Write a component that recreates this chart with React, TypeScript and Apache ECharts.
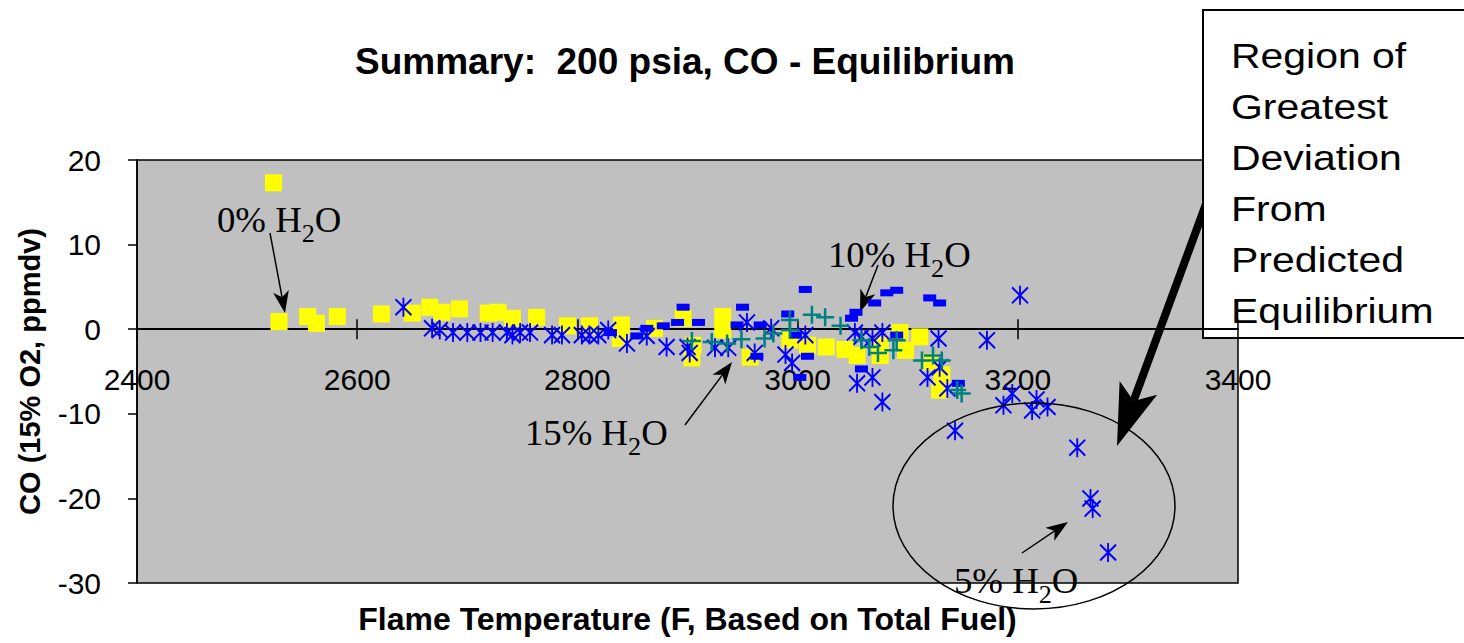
import React, { useEffect, useRef } from "react";
import * as echarts from "echarts";

// ---- data (flame temperature °F, CO deviation ppmdv) ----
const h2o0: [number, number][] = [
  [2524, 17.3], [2529, 0.9], [2555, 1.5], [2563, 0.7], [2582, 1.5], [2622, 1.8],
  [2650, 1.9], [2666, 2.6], [2677, 2.0], [2693, 2.4], [2719, 1.9], [2728, 2.0],
  [2741, 1.3], [2763, 1.4], [2791, 0.4], [2811, 0.4], [2840, 0.5], [2839, -1.1],
  [2870, 0.1], [2896, 1.3], [2905, -1.9], [2904, -3.4], [2932, 1.5], [2932, -0.1],
  [2957, -3.3], [2993, -1.3], [3009, -1.9], [3026, -2.1], [3043, -2.4], [3054, -3.1],
  [3075, -1.9], [3075, -3.1], [3093, -0.4], [3111, -0.9], [3098, -2.5], [3120, -3.9],
  [3131, -5.4], [3129, -7.2],
];
const h2o10: [number, number][] = [
  [2830, -0.4], [2854, -0.8], [2863, 0.1], [2878, 0.4], [2891, 0.8], [2896, 2.6],
  [2910, 0.8], [2945, 0.5], [2950, 2.6], [2963, -3.2], [2966, 0.5], [2991, 1.8],
  [2998, -0.7], [3007, 4.7], [3009, -3.2], [3002, -5.7], [3049, 1.3], [3053, 2.0],
  [3058, -4.7], [3070, 3.1], [3081, 4.3], [3090, 4.6], [3090, -0.7], [3120, 3.7],
  [3129, 3.1], [3146, -6.4],
];
const h2o15: [number, number][] = [
  [2904, -1.4], [2922, -1.5], [2936, -1.7], [2949, -1.2], [2970, -1.1], [2978, -0.5],
  [2993, 1.1], [2993, -0.1], [3013, 1.7], [3025, 1.4], [3039, 0.4], [3058, -1.3],
  [3065, -2.1], [3073, -2.8], [3087, -2.5], [3090, -1.3], [3113, -3.7], [3123, -3.1],
  [3131, -3.7], [3145, -7.2], [3149, -7.6],
];
const h2o5: [number, number][] = [
  [2642, 2.6], [2668, 0.1], [2675, -0.1], [2687, -0.4], [2700, -0.4], [2712, -0.4],
  [2723, -0.4], [2736, -0.4], [2741, -0.7], [2748, -0.4], [2757, -0.4], [2777, -0.7],
  [2786, -0.7], [2804, -0.7], [2811, -0.7], [2819, -0.7], [2828, -0.1], [2845, -1.7],
  [2863, -0.8], [2881, -2.1], [2900, -2.1], [2902, -2.8], [2925, -2.2], [2937, -2.2],
  [2954, 0.8], [2961, -2.8], [2976, 0.1], [2989, -3.0], [2995, -4.0], [3007, -0.7],
  [3052, -0.4], [3058, -0.9], [3068, -1.1], [3077, -0.4], [3054, -6.4], [3068, -5.7],
  [3077, -8.6], [3128, -1.1], [3118, -5.7], [3129, -4.5], [3136, -7.0], [3172, -1.3],
  [3202, 4.0], [3143, -12.0], [3187, -9.0], [3195, -7.6], [3213, -9.6], [3217, -8.3],
  [3227, -9.2], [3254, -14.0], [3266, -20.0], [3268, -21.2], [3282, -26.4],
];

const xTicks = [2400, 2600, 2800, 3000, 3200, 3400];
const yTicks = [-30, -20, -10, 0, 10, 20];

const titleText = "Summary:  200 psia, CO - Equilibrium";
const xName = "Flame Temperature (F, Based on Total Fuel)";
const yName = "CO (15% O2, ppmdv)";
const boxLines = ["Region of", "Greatest", "Deviation", "From", "Predicted", "Equilibrium"];

const SANS = '"Liberation Sans", Arial, sans-serif';
const SERIF = '"Liberation Serif", "Times New Roman", serif';

function measure(text: string, font: string): number {
  const c = document.createElement("canvas");
  const ctx = c.getContext("2d");
  if (!ctx) return text.length * 15;
  ctx.font = font;
  return ctx.measureText(text).width;
}

function h2oLabel(prefix: string, x: number, baseline: number) {
  const mainSize = 35;
  const subSize = 25;
  const sx = 1.05;
  const mainFont = `normal ${mainSize}px ${SERIF}`;
  const subFont = `normal ${subSize}px ${SERIF}`;
  const p1 = prefix + " H";
  const w1 = measure(p1, mainFont) * sx;
  const w2 = measure("2", subFont) * sx;
  const midMain = baseline - 0.34 * mainSize;
  const midSub = baseline + 10 - 0.34 * subSize;
  return {
    type: "group",
    z: 60,
    children: [
      { type: "text", x, y: midMain, scaleX: sx, style: { text: p1, font: mainFont, fill: "#000", verticalAlign: "middle", align: "left" } },
      { type: "text", x: x + w1, y: midSub, scaleX: sx, style: { text: "2", font: subFont, fill: "#000", verticalAlign: "middle", align: "left" } },
      { type: "text", x: x + w1 + w2, y: midMain, scaleX: sx, style: { text: "O", font: mainFont, fill: "#000", verticalAlign: "middle", align: "left" } },
    ],
  };
}

function arrow(x1: number, y1: number, x2: number, y2: number, lw: number, headLen: number, headHalf: number, notch: number, z: number) {
  const dx = x2 - x1, dy = y2 - y1;
  const L = Math.hypot(dx, dy);
  const ux = dx / L, uy = dy / L;
  const nx = -uy, ny = ux;
  const bx = x2 - ux * headLen, by = y2 - uy * headLen;
  const qx = x2 - ux * (headLen - notch), qy = y2 - uy * (headLen - notch);
  return {
    type: "group",
    z,
    children: [
      { type: "polyline", shape: { points: [[x1, y1], [qx, qy]] }, style: { stroke: "#000", lineWidth: lw, fill: "none" } },
      {
        type: "polygon",
        shape: { points: [[x2, y2], [bx + nx * headHalf, by + ny * headHalf], [qx, qy], [bx - nx * headHalf, by - ny * headHalf]] },
        style: { fill: "#000", stroke: "none" },
      },
    ],
  };
}

export default function App() {
  const ref = useRef<HTMLDivElement>(null);
  useEffect(() => {
    if (!ref.current) return;
    const chart = echarts.init(ref.current, null, { renderer: "svg" });
    const boxFont = `normal 35px ${SANS}`;
    const plain = (v: number) => String(v);
    const option: any = {
      animation: false,
      backgroundColor: "#fff",
      textStyle: { fontFamily: SANS, color: "#000" },
      title: {
        text: titleText,
        left: 680,
        top: 38,
        textAlign: "center",
        textStyle: { fontSize: 37, fontWeight: "bold", color: "#000", fontFamily: SANS },
      },
      grid: {
        left: 137,
        top: 160,
        width: 1101,
        height: 423,
        show: true,
        outerBoundsMode: "none",
        containLabel: false,
        backgroundColor: "#C0C0C0",
        borderColor: "#000",
        borderWidth: 1.5,
      },
      xAxis: [
        {
          type: "value",
          min: xTicks[0],
          max: xTicks[xTicks.length - 1],
          interval: 200,
          position: "bottom",
          name: xName,
          nameLocation: "middle",
          nameGap: 20,
          nameTextStyle: { fontSize: 32, fontWeight: "bold", color: "#000", fontFamily: SANS },
          axisLine: { show: true, onZero: true, onZeroAxisIndex: 0, lineStyle: { color: "#000", width: 2 } },
          axisTick: { show: true, inside: false, length: 10, lineStyle: { color: "#000", width: 1.5 } },
          axisLabel: { show: true, margin: -219, fontSize: 30, color: "#000", fontFamily: SANS, formatter: plain },
          splitLine: { show: false },
        },
        {
          type: "value",
          min: xTicks[0],
          max: xTicks[xTicks.length - 1],
          interval: 200,
          position: "bottom",
          axisLine: { show: false, onZero: true, onZeroAxisIndex: 0 },
          axisTick: { show: true, inside: true, length: 10, lineStyle: { color: "#000", width: 1.5 } },
          axisLabel: { show: false },
          splitLine: { show: false },
        },
      ],
      yAxis: {
        type: "value",
        min: yTicks[0],
        max: yTicks[yTicks.length - 1],
        interval: 10,
        name: yName,
        nameLocation: "middle",
        nameGap: 93,
        nameRotate: 90,
        nameTextStyle: { fontSize: 29, fontWeight: "bold", color: "#000", fontFamily: SANS },
        axisLine: { show: true, onZero: false, lineStyle: { color: "#000", width: 1.5 } },
        axisTick: { show: true, length: 9, lineStyle: { color: "#000", width: 1.5 } },
        axisLabel: { margin: 36, fontSize: 30, color: "#000", fontFamily: SANS, formatter: plain },
        splitLine: { show: false },
      },
      series: [
        {
          name: "0% H2O",
          type: "scatter",
          data: h2o0,
          symbol: "rect",
          symbolSize: [17, 17],
          itemStyle: { color: "#FFFF00", opacity: 1 },
          z: 2,
        },
        {
          name: "10% H2O",
          type: "scatter",
          data: h2o10,
          symbol: "rect",
          symbolSize: [13, 7],
          itemStyle: { color: "#0000FF", opacity: 1 },
          z: 3,
        },
        {
          name: "5% H2O",
          type: "scatter",
          data: h2o5,
          symbol: "path://M0 0 L10 10 M10 0 L0 10 M5 -1 L5 11",
          symbolSize: [16, 19],
          itemStyle: { color: "rgba(0,0,0,0)", borderColor: "#0000FF", borderWidth: 2, opacity: 1 },
          z: 4,
        },
        {
          name: "15% H2O",
          type: "scatter",
          data: h2o15,
          symbol: "path://M5 0 L5 10 M0 5 L10 5",
          symbolSize: [18, 18],
          itemStyle: { color: "rgba(0,0,0,0)", borderColor: "#008080", borderWidth: 2.5, opacity: 1 },
          z: 5,
        },
      ],
      graphic: [
        {
          type: "ellipse",
          z: 50,
          shape: { cx: 1034, cy: 506, rx: 141, ry: 103 },
          style: { fill: "none", stroke: "#000", lineWidth: 1.5 },
        },
        arrow(270, 233, 285, 313, 1.5, 22, 8, 6, 60),
        arrow(878, 265, 860, 312, 1.5, 22, 8, 6, 60),
        arrow(685, 425, 732, 362, 1.5, 22, 8, 6, 60),
        arrow(1022, 553, 1068, 522, 1.5, 22, 8, 6, 60),
        arrow(1213, 185, 1117, 446, 8, 62, 20, 14, 70),
        h2oLabel("0%", 217, 232),
        h2oLabel("10%", 828, 267),
        h2oLabel("15%", 525, 445),
        h2oLabel("5%", 954, 593),
        {
          type: "group",
          z: 80,
          children: [
            {
              type: "rect",
              shape: { x: 1203, y: 10, width: 300, height: 328 },
              style: { fill: "#fff", stroke: "#000", lineWidth: 2 },
            },
            ...boxLines.map((t, i) => ({
              type: "text",
              x: 1231,
              y: 68 + 51 * i - 0.34 * 35,
              scaleX: 1.17,
              style: { text: t, font: boxFont, fill: "#000", verticalAlign: "middle", align: "left" },
            })),
          ],
        },
      ],
    };
    chart.setOption(option);
    return () => chart.dispose();
  }, []);
  return <div ref={ref} style={{ position: "fixed", left: 0, top: 0, width: 1464, height: 643 }} />;
}
